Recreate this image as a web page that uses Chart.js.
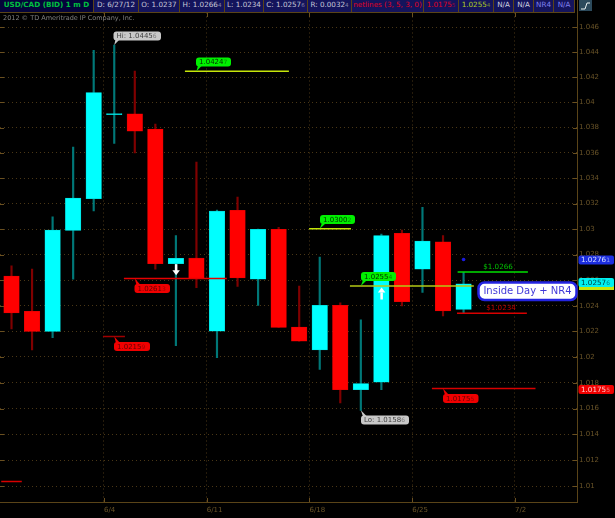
<!DOCTYPE html>
<html>
<head>
<meta charset="utf-8">
<title>USD/CAD</title>
<script src="https://cdn.jsdelivr.net/npm/chart.js@4"></script>
<style>
  html, body { margin: 0; padding: 0; background: #000; overflow: hidden; }
  #wrap { position: relative; width: 615px; height: 518px; }
  #priceChart { display: block; }
  #header { position: absolute; left: 0; top: 0; width: 577px; height: 13px; background: #000; }
  #header div {
    position: absolute; top: 0; height: 13px; line-height: 12px; box-sizing: border-box;
    background: #14145c; border-right: 1px solid #5a4418; border-bottom: 1px solid #5a4418;
    font: 7.2px "DejaVu Sans", sans-serif; text-align: center; white-space: nowrap; overflow: hidden;
  }
  #header div:first-child { background: #04043a; font-weight: bold; font-size: 7.2px; }
  #header small { font-size: 5.5px; opacity: .6; }
</style>
</head>
<body>
<div id="wrap">
  <canvas id="priceChart" width="615" height="518"></canvas>
  <div id="header"></div>
</div>
<script>
// candles, one per trading day
const days   = [0, 1, 2, 3, 4, 5, 6, 7, 8, 9, 10, 11, 12, 13, 14, 15, 16, 17, 18, 19, 20, 21, 22];
const opens  = [1.02631, 1.02355, 1.022, 1.0299, 1.0324, 1.03904, 1.0391, 1.03789, 1.02728, 1.02773, 1.02202, 1.03147, 1.02608, 1.02998, 1.02233, 1.02056, 1.02402, 1.01747, 1.01804, 1.02966, 1.02686, 1.029, 1.0237];
const highs  = [1.02712, 1.02686, 1.03096, 1.03647, 1.04415, 1.04456, 1.04249, 1.03828, 1.0295, 1.03527, 1.0315, 1.03252, 1.03001, 1.03013, 1.02553, 1.0278, 1.02423, 1.0229, 1.0296, 1.02992, 1.03172, 1.0295, 1.0266];
const lows   = [1.02218, 1.02056, 1.0215, 1.02608, 1.03142, 1.03676, 1.036, 1.02686, 1.02088, 1.0254, 1.01994, 1.02551, 1.02402, 1.02231, 1.02123, 1.01903, 1.01644, 1.01586, 1.01747, 1.02399, 1.02504, 1.0232, 1.0234];
const closes = [1.02344, 1.022, 1.02992, 1.03244, 1.04079, 1.03912, 1.03773, 1.02728, 1.02771, 1.02616, 1.03142, 1.02618, 1.02998, 1.02231, 1.02123, 1.02402, 1.01747, 1.01794, 1.0295, 1.02431, 1.02905, 1.0236, 1.0257];

// axis ticks
const priceTicks = [1.046, 1.044, 1.042, 1.04, 1.038, 1.036, 1.034, 1.032, 1.03, 1.028, 1.026, 1.024, 1.022, 1.02, 1.018, 1.016, 1.014, 1.012, 1.01];
const dateTicks  = [4.5, 9.5, 14.5, 19.5, 24.5];
const dateLabels = ['6/4', '6/11', '6/18', '6/25', '7/2'];

// level lines: value, first day, last day
const levelValues = [1.04247, 1.03002, 1.02554, 1.02613, 1.02159, 1.01755, 1.0234, 1.02664, 1.01036];
const levelStarts = [8.44, 14.48, 16.47, 5.47, 4.45, 20.46, 21.68, 21.71, -0.5];
const levelEnds   = [13.5, 16.52, 22.5, 10.48, 5.52, 25.5, 25.08, 25.13, 0.5];
const levelColors = ['#c6e60a', '#c6e60a', '#b4c814', '#e60000', '#a00000', '#d80000', '#d80000', '#00e000', '#d80000'];

const signalDay = [22];
const signalValue = [1.02762];

// header strip
const headerTexts = ['USD/CAD (BID) 1 m D', 'D: 6/27/12', 'O: 1.0237', 'H: 1.0266<small>4</small>', 'L: 1.0234', 'C: 1.0257<small>6</small>', 'R: 0.0032<small>4</small>', 'netlines (3, 5, 3, 0)', '1.0175<small>5</small>', '1.0255<small>4</small>', 'N/A', 'N/A', 'NR4', 'N/A'];
const headerEdges = [0, 94, 139, 180, 225, 264, 308, 352, 424, 459, 494, 514, 534, 554, 575];
const headerInk   = ['#00c040', '#c8c8d8', '#c8c8d8', '#c8c8d8', '#c8c8d8', '#c8c8d8', '#c8c8d8', '#e00020', '#e00020', '#b0d020', '#d0d0e0', '#d0d0e0', '#8080f0', '#8080f0'];

const header = document.getElementById('header');
headerTexts.forEach((t, i) => {
    const d = document.createElement('div');
    d.style.left = headerEdges[i] + 'px';
    d.style.width = (headerEdges[i + 1] - headerEdges[i]) + 'px';
    d.style.color = headerInk[i];
    d.innerHTML = t;
    header.appendChild(d);
});

const FONT = '"DejaVu Sans", sans-serif';
const AXIS = '#5a4418';

function roundBox(ctx, x, y, w, h, r) {
    ctx.beginPath();
    ctx.roundRect(x, y, w, h, r);
}

// callout with a small pointer down (or up) to its level line
function callout(ctx, note) {
    const { x, y, w, tipX, tipY, fill, ink, text, tail } = note;
    const h = 9;
    const above = tipY < y;
    ctx.fillStyle = fill;
    ctx.beginPath();
    ctx.moveTo(x + 2, above ? y + 1 : y + h - 1);
    ctx.lineTo(tipX, tipY);
    ctx.lineTo(x + 6, above ? y + 1 : y + h - 1);
    ctx.fill();
    roundBox(ctx, x, y, w, h, 3);
    ctx.fill();
    ctx.font = '7px ' + FONT;
    ctx.textAlign = 'left';
    ctx.textBaseline = 'middle';
    ctx.fillStyle = ink;
    ctx.fillText(text, x + 3, y + h / 2 + 0.5);
    if (tail) {
        const tw = ctx.measureText(text).width;
        ctx.font = '6px ' + FONT;
        ctx.globalAlpha = 0.55;
        ctx.fillText(tail, x + 3 + tw, y + h / 2 + 0.5);
        ctx.globalAlpha = 1;
    }
}

function tag(ctx, top, fill, ink, text, tail) {
    ctx.fillStyle = fill;
    roundBox(ctx, 578.5, top, 35.5, 9, 2);
    ctx.fill();
    ctx.font = '7.2px ' + FONT;
    ctx.textAlign = 'left';
    ctx.textBaseline = 'middle';
    ctx.fillStyle = ink;
    ctx.fillText(text, 581, top + 5);
    const tw = ctx.measureText(text).width;
    ctx.font = '6px ' + FONT;
    ctx.globalAlpha = 0.6;
    ctx.fillText(tail, 581 + tw, top + 5);
    ctx.globalAlpha = 1;
}

const annotations = {
    id: 'annotations',
    afterDraw(chart) {
        const ctx = chart.ctx;
        const xs = chart.scales.x, ys = chart.scales.y;
        const px = d => xs.getPixelForValue(d);
        const py = v => ys.getPixelForValue(v);
        ctx.save();

        // frame ticks on the edges
        ctx.strokeStyle = '#6a5020';
        ctx.lineWidth = 1;
        priceTicks.forEach(v => {
            const y = Math.round(py(v)) + 0.5;
            ctx.beginPath(); ctx.moveTo(0, y); ctx.lineTo(4, y); ctx.stroke();
            ctx.beginPath(); ctx.moveTo(573, y); ctx.lineTo(577, y); ctx.stroke();
        });
        dateTicks.forEach(d => {
            const x = Math.round(px(d)) + 0.5;
            ctx.beginPath(); ctx.moveTo(x, 13); ctx.lineTo(x, 17); ctx.stroke();
            ctx.beginPath(); ctx.moveTo(x, 498); ctx.lineTo(x, 502); ctx.stroke();
        });
        ctx.strokeStyle = AXIS;
        ctx.beginPath(); ctx.moveTo(577.5, 0); ctx.lineTo(577.5, 13); ctx.stroke();

        // chart type button
        ctx.fillStyle = '#2c4a5c';
        ctx.fillRect(579, 0, 13, 11);
        ctx.strokeStyle = '#e8f0f0';
        ctx.beginPath(); ctx.moveTo(581, 9); ctx.lineTo(585, 9); ctx.lineTo(587, 3); ctx.lineTo(590, 3); ctx.stroke();

        ctx.font = '6.5px ' + FONT;
        ctx.textAlign = 'left';
        ctx.textBaseline = 'middle';
        ctx.fillStyle = '#808080';
        ctx.fillText('2012 © TD Ameritrade IP Company, Inc.', 3, 18.5);

        callout(ctx, { x: 113.5, y: 31.5, w: 47.5, tipX: px(5), tipY: py(1.04456), fill: '#c8c8c8', ink: '#404040', text: 'Hi: 1.0445', tail: '6' });
        callout(ctx, { x: 196, y: 57.5, w: 35, tipX: px(9), tipY: py(1.04247), fill: '#00f000', ink: '#003000', text: '1.0424', tail: '7' });
        callout(ctx, { x: 320, y: 215, w: 35, tipX: px(15), tipY: py(1.03002), fill: '#00f000', ink: '#003000', text: '1.0300', tail: '2' });
        callout(ctx, { x: 361, y: 272, w: 35, tipX: px(17), tipY: py(1.02554), fill: '#00f000', ink: '#003000', text: '1.0255', tail: '4' });
        callout(ctx, { x: 134.5, y: 284, w: 35.5, tipX: px(6), tipY: py(1.02613), fill: '#f00000', ink: '#600000', text: '1.0261', tail: '3' });
        callout(ctx, { x: 114, y: 342, w: 36, tipX: px(5), tipY: py(1.02159), fill: '#f00000', ink: '#600000', text: '1.0215', tail: '9' });
        callout(ctx, { x: 443, y: 394, w: 35.5, tipX: px(21), tipY: py(1.01755), fill: '#f00000', ink: '#600000', text: '1.0175', tail: '5' });
        callout(ctx, { x: 361, y: 415.5, w: 48, tipX: px(17), tipY: py(1.01586), fill: '#c8c8c8', ink: '#404040', text: 'Lo: 1.0158', tail: '6' });

        ctx.font = '7.2px ' + FONT;
        ctx.textAlign = 'center';
        ctx.textBaseline = 'middle';
        ctx.fillStyle = '#00c000';
        ctx.fillText('$1.0266', 498, py(1.02664) - 5);
        ctx.fillStyle = '#c00000';
        ctx.fillText('$1.0234', 501, py(1.0234) - 5.5);

        // study arrows
        ctx.fillStyle = '#fff';
        const down = px(8), up = px(18), downY = py(1.02725), upY = py(1.0255);
        ctx.fillRect(down - 1, downY, 2.5, 7);
        ctx.beginPath(); ctx.moveTo(down - 3.5, downY + 6); ctx.lineTo(down + 4, downY + 6); ctx.lineTo(down + 0.25, downY + 11); ctx.fill();
        ctx.fillRect(up - 1, upY + 6, 2.5, 7);
        ctx.beginPath(); ctx.moveTo(up - 3.5, upY + 6); ctx.lineTo(up + 4, upY + 6); ctx.lineTo(up + 0.25, upY + 1); ctx.fill();

        // price axis tags
        tag(ctx, 255.5, '#1c2ee0', '#d8e0ff', '1.0276', '1');
        ctx.fillStyle = '#c6e60a';
        ctx.fillRect(579, 285, 35, 5);
        tag(ctx, 278, '#00f0f0', '#004040', '1.0257', '6');
        tag(ctx, 385, '#f00000', '#ffd0d0', '1.0175', '5');

        // study label
        ctx.fillStyle = '#fff';
        ctx.strokeStyle = '#2424e0';
        ctx.lineWidth = 2.5;
        roundBox(ctx, 478.5, 282.5, 98, 17.5, 6);
        ctx.fill();
        ctx.stroke();
        ctx.font = '10px ' + FONT;
        ctx.fillStyle = '#4038d8';
        ctx.textAlign = 'center';
        ctx.fillText('Inside Day + NR4', 527.5, 291.5);

        ctx.restore();
    }
};

const isUp = days.map(i => closes[i] >= opens[i]);

new Chart(document.getElementById('priceChart'), {
    type: 'bar',
    data: {
        datasets: [
            ...levelValues.map((v, i) => ({
                type: 'line',
                data: [{ x: levelStarts[i], y: v }, { x: levelEnds[i], y: v }],
                borderColor: levelColors[i],
                borderWidth: 1.5,
                pointRadius: 0,
                order: 0
            })),
            {
                type: 'line',
                data: signalDay.map((d, i) => ({ x: d, y: signalValue[i] })),
                showLine: false,
                pointRadius: 1.8,
                pointBackgroundColor: '#1a1ae0',
                pointBorderWidth: 0,
                order: 0
            },
            {
                data: days.map(i => ({ x: i, y: [Math.min(opens[i], closes[i]), Math.max(opens[i], closes[i])] })),
                backgroundColor: days.map(i => isUp[i] ? '#00ffff' : '#ff0000'),
                borderColor: days.map(i => isUp[i] ? '#00c8c8' : '#d80000'),
                borderWidth: 0.5,
                borderSkipped: false,
                barThickness: 15.5,
                grouped: false,
                order: 1
            },
            {
                data: days.map(i => ({ x: i, y: [lows[i], highs[i]] })),
                backgroundColor: days.map(i => isUp[i] ? '#007878' : '#800000'),
                barThickness: 1.5,
                grouped: false,
                order: 2
            }
        ]
    },
    options: {
        responsive: false,
        animation: false,
        events: [],
        layout: { autoPadding: false, padding: { top: 12.5 } },
        plugins: { legend: { display: false }, title: { display: false }, tooltip: { enabled: false } },
        scales: {
            x: {
                type: 'linear',
                offset: false,
                min: -0.56,
                max: 27.52,
                afterBuildTicks: s => { s.ticks = dateTicks.map(value => ({ value })); },
                afterFit: s => { s.height = 16; s.paddingLeft = 0; s.paddingRight = 0; },
                border: { color: AXIS, width: 1, dash: [1, 3] },
                grid: { offset: false, color: '#4a3716', drawTicks: false, z: -1 },
                ticks: {
                    autoSkip: false,
                    maxRotation: 0,
                    align: 'start',
                    padding: 4,
                    color: '#6a5428',
                    font: { family: FONT, size: 7 },
                    callback: v => dateLabels[dateTicks.indexOf(v)]
                }
            },
            y: {
                type: 'logarithmic',
                position: 'right',
                bounds: 'data',
                min: 1.00878,
                max: 1.04716,
                afterBuildTicks: s => { s.ticks = priceTicks.map(value => ({ value })); },
                afterFit: s => { s.width = 38; s.paddingTop = 0; s.paddingBottom = 0; },
                border: { color: AXIS, width: 1, dash: [1, 3] },
                grid: { color: '#4a3716', drawTicks: false, z: -1 },
                ticks: {
                    autoSkip: false,
                    major: { enabled: false },
                    padding: 2,
                    color: '#6a5428',
                    font: { family: FONT, size: 7 },
                    callback: v => String(v)
                }
            }
        }
    },
    plugins: [annotations]
});
</script>
</body>
</html>
